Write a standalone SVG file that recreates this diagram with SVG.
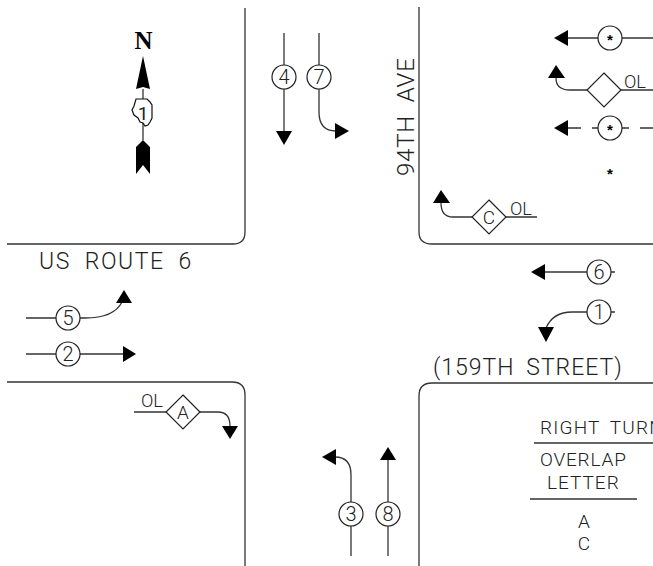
<svg xmlns="http://www.w3.org/2000/svg" width="653" height="566" viewBox="0 0 653 566">
<style>
.l{fill:none;stroke:#333;stroke-width:1.3}
.c{fill:#fff;stroke:#222;stroke-width:1.2}
.h{fill:#000;stroke:none}
text{font-family:"Roboto","Liberation Sans",sans-serif;font-weight:300;fill:#222}
.t{font-size:23px}
.n{font-size:20px;text-anchor:middle}
.o{font-size:19px}
.m{text-anchor:middle}
.star{font-family:"Liberation Sans",sans-serif;font-size:15px;font-weight:700;text-anchor:middle;fill:#000}
</style>
<rect width="653" height="566" fill="#fff"/>
<g id="curbs" class="l">
<path d="M245 8V232Q245 244 233 244H7"/>
<path d="M419 7V232Q419 244 432 244H653"/>
<path d="M7 382H232Q245 382 245 395V566"/>
<path d="M653 383H432Q419 383 419 396V566"/>
</g>
<g id="connectors">
<g class="l">
<path d="M284 33V131"/>
<path d="M319 33V112Q319 131 336 131"/>
<path d="M351 556V475Q351 457 335 457"/>
<path d="M388 556V460"/>
<path d="M615 272H545"/>
<path d="M615 312H572Q553 312 546 328"/>
<path d="M26 318H85Q114 318 122 302"/>
<path d="M26 354H123"/>
<path d="M134 412H218Q230 412 230 426"/>
<path d="M653 38H568"/>
<path d="M653 90H570Q556 90 556 78"/>
<path d="M653 128H568" stroke-dasharray="13 11"/>
<path d="M537 217H453Q441 217 441 203"/>
<path d="M143 89V140"/>
<path d="M534 443H653M530 499H637"/>
</g>
<path class="h" d="M276 131H292L284 145Z"/>
<path class="h" d="M335 123V139L349 131Z"/>
<path class="h" d="M336 449V465L322 457Z"/>
<path class="h" d="M380 460H396L388 447Z"/>
<path class="h" d="M545 264V280L531 272Z"/>
<path class="h" d="M538 327H554L546 342Z"/>
<path class="h" d="M116 303H132L124 290Z"/>
<path class="h" d="M123 346V362L136 354Z"/>
<path class="h" d="M222 426H238L230 439Z"/>
<path class="h" d="M568 30V46L554 38Z"/>
<path class="h" d="M548 78H565L556 65Z"/>
<path class="h" d="M568 120V136L554 128Z"/>
<path class="h" d="M433 203H450L441 190Z"/>
</g>
<g id="north">
<text x="143.500" y="49" text-anchor="middle" style="font-family:'Liberation Serif',serif;font-weight:700;font-size:25px;fill:#000">N</text>
<path class="h" d="M143 56L150 89L143 87L136 89Z"/>
<path class="h" d="M143 140L150 147V174L143 165L136 174V147Z"/>
<path d="M136 99L147 99L150 102L152 105L152 118L150 122L148 125L145 126L143 123L140 122L138 118L134 115L132 110L134 106Z" fill="#fff" stroke="#111" stroke-width="1.2"/>
<text x="143" y="120" text-anchor="middle" style="font-size:19px;font-weight:400">1</text>
</g>
<g id="s4"><circle class="c" cx="284" cy="77" r="12"/><text class="n" x="284" y="84">4</text></g>
<g id="s7"><circle class="c" cx="319" cy="77" r="12"/><text class="n" x="319" y="84">7</text></g>
<g id="s3"><circle class="c" cx="351" cy="514" r="12"/><text class="n" x="351" y="521">3</text></g>
<g id="s8"><circle class="c" cx="388" cy="514" r="12"/><text class="n" x="388" y="521">8</text></g>
<g id="s6"><circle class="c" cx="599" cy="272" r="12"/><text class="n" x="599" y="279">6</text></g>
<g id="s1"><circle class="c" cx="599" cy="312" r="12"/><text class="n" x="599" y="319">1</text></g>
<g id="s5"><circle class="c" cx="68" cy="318" r="12"/><text class="n" x="68" y="325">5</text></g>
<g id="s2"><circle class="c" cx="68" cy="354" r="12"/><text class="n" x="68" y="361">2</text></g>
<g id="star1"><circle class="c" cx="610" cy="38" r="12"/><text class="star" x="610" y="44.500">*</text></g>
<g id="olTop"><path class="c" d="M604 73L621 90L604 107L587 90Z"/><text class="o" x="624" y="88" textLength="22" lengthAdjust="spacingAndGlyphs">OL</text></g>
<g id="star2"><circle class="c" cx="610" cy="128" r="12"/><text class="star" x="610" y="134.500">*</text></g>
<g id="note"><text class="star" x="610" y="178.500">*</text></g>
<g id="olC"><path class="c" d="M489 200L506 217L489 234L472 217Z"/><text class="o m" x="489" y="224">C</text><text class="o" x="510" y="215" textLength="22" lengthAdjust="spacingAndGlyphs">OL</text></g>
<g id="olA"><path class="c" d="M183 395L200 412L183 429L166 412Z"/><text class="o m" x="183" y="419">A</text><text class="o" x="141" y="407" textLength="22" lengthAdjust="spacingAndGlyphs">OL</text></g>
<g id="labels">
<text class="t" transform="translate(414 176) rotate(-90)" style="font-size:24px;letter-spacing:.8px;word-spacing:6px">94TH AVE</text>
<text class="t" x="39" y="269" style="letter-spacing:1.500px;word-spacing:7px">US ROUTE 6</text>
<text class="t" x="433" y="375" style="letter-spacing:1px;word-spacing:5px">(159TH STREET)</text>
<text class="o" x="540" y="434" style="letter-spacing:1.200px;word-spacing:4px">RIGHT TURN</text>
<text class="o" x="540" y="466" style="letter-spacing:.8px">OVERLAP</text>
<text class="o" x="547" y="489" style="letter-spacing:1px">LETTER</text>
<text class="o m" x="584" y="528">A</text>
<text class="o m" x="584" y="550">C</text>
</g>
</svg>
